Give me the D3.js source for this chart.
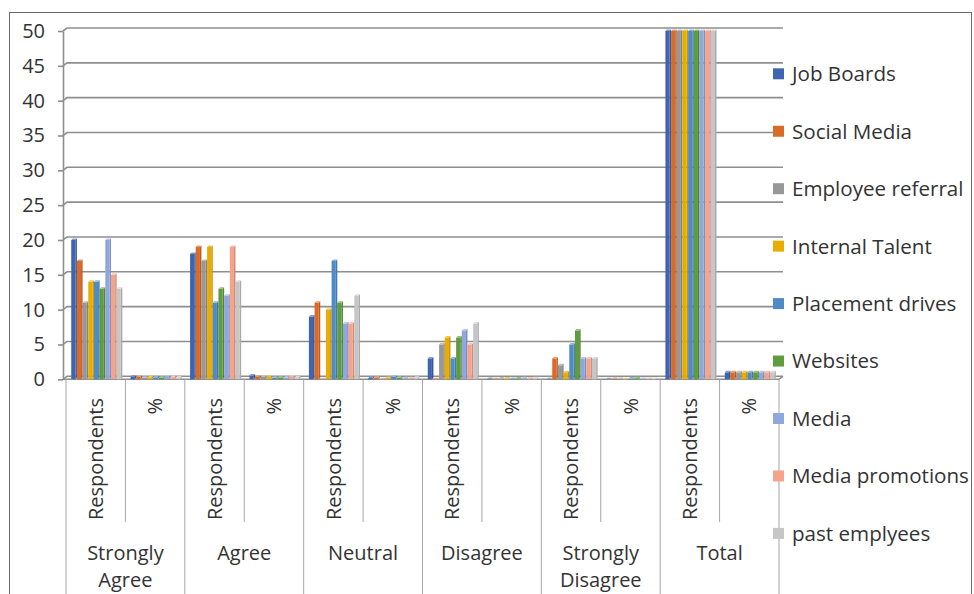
<!DOCTYPE html>
<html>
<head>
<meta charset="utf-8">
<script src="https://cdn.jsdelivr.net/npm/d3@7/dist/d3.min.js"></script>
<style>
  html, body { margin: 0; padding: 0; background: #fff; }
  svg { display: block; }
  text { font-family: "Open Sans", "Noto Sans", sans-serif; fill: #333; }
</style>
</head>
<body>
<svg id="chart" width="974" height="594"></svg>
<script>
// Survey answers per recruitment channel: respondent counts and shares
const groups = ["Strongly Agree", "Agree", "Neutral", "Disagree", "Strongly Disagree", "Total"];
const subLevels = ["Respondents", "%"];
const seriesNames = ["Job Boards", "Social Media", "Employee referral", "Internal Talent",
  "Placement drives", "Websites", "Media", "Media promotions", "past emplyees"];
const seriesColors = ["#3F65B2", "#DA6A28", "#989898", "#E8AD00", "#4F8CC6",
  "#5F9B3F", "#8FA7DE", "#F3A48B", "#C6C6C6"];

// values in category order: SA resp, SA %, A resp, A %, N resp, N %, D resp, D %, SD resp, SD %, Total resp, Total %
const jobBoards        = [20, 0.4,  18, 0.56, 9,  0.18, 3, 0.06, 0, 0,    50, 1];
const socialMedia      = [17, 0.34, 19, 0.38, 11, 0.22, 0, 0,    3, 0.06, 50, 1];
const employeeReferral = [11, 0.22, 17, 0.34, 0,  0,    5, 0.1,  2, 0.04, 50, 1];
const internalTalent   = [14, 0.28, 19, 0.38, 10, 0.2,  6, 0.12, 1, 0.02, 50, 1];
const placementDrives  = [14, 0.28, 11, 0.22, 17, 0.34, 3, 0.06, 5, 0.1,  50, 1];
const websites         = [13, 0.26, 13, 0.26, 11, 0.22, 6, 0.12, 7, 0.14, 50, 1];
const media            = [20, 0.4,  12, 0.24, 8,  0.16, 7, 0.14, 3, 0.06, 50, 1];
const mediaPromotions  = [15, 0.3,  19, 0.38, 8,  0.16, 5, 0.1,  3, 0.06, 50, 1];
const pastEmployees    = [13, 0.26, 14, 0.28, 12, 0.24, 8, 0.16, 3, 0.06, 50, 1];

const yTicks = [0, 5, 10, 15, 20, 25, 30, 35, 40, 45, 50];

const seriesValues = [jobBoards, socialMedia, employeeReferral, internalTalent,
  placementDrives, websites, media, mediaPromotions, pastEmployees];

const svg = d3.select("#chart");

// layout
const plotLeft = 66, plotRight = 779;
const depthX = 4, depthY = 3;          // back-wall offset of the 3D plot
const barDepth = 1.5;                   // depth of each column's top/side face

const categories = [];
groups.forEach(g => subLevels.forEach(s => categories.push(g + "|" + s)));

const x0 = d3.scaleBand().domain(categories).range([plotLeft, plotRight]).paddingInner(0).paddingOuter(0);
const x1 = d3.scaleBand().domain(d3.range(seriesNames.length))
  .range([x0.bandwidth() * 0.088, x0.bandwidth() * 0.948]).padding(0);
const y = d3.scaleLinear().domain([0, 50]).range([379.3, 31]);

// outer frame
svg.append("rect").attr("x", 9.5).attr("y", 12.5).attr("width", 962).attr("height", 600)
  .attr("fill", "none").attr("stroke", "#6b6b6b").attr("stroke-width", 1);

// back-wall gridlines with the slanted joint on the left wall
const grid = svg.append("g").attr("fill", "none").attr("stroke", "#8e8e8e").attr("stroke-width", 1.6);
yTicks.forEach(v => {
  const yy = y(v);
  grid.append("path")
    .attr("d", `M${plotLeft - 3},${yy} L${plotLeft + depthX - 3},${yy - depthY} L${plotRight + depthX},${yy - depthY}`);
});
// floor front edge and right end
grid.append("path")
  .attr("d", `M${plotLeft - 3},${y(0)} L${plotRight},${y(0)} L${plotRight + depthX},${y(0) - depthY}`);

// y axis
const yAxis = d3.axisLeft(y).tickValues(yTicks).tickSize(5).tickSizeOuter(0).tickPadding(13);
const yg = svg.append("g").attr("transform", `translate(${plotLeft - 3},0)`).call(yAxis);
yg.select(".domain").attr("stroke", "#8e8e8e").attr("stroke-width", 1.6);
yg.selectAll(".tick line").attr("stroke", "#8e8e8e").attr("stroke-width", 1.6);
yg.selectAll(".tick text").style("font-size", "20px").attr("fill", "#333")
  .style("font-family", "'Open Sans', 'Noto Sans', sans-serif");

// columns
const shade = (c, k) => d3.interpolateRgb(c, k > 0 ? "#ffffff" : "#000000")(Math.abs(k));
const bars = svg.append("g");
seriesValues.forEach((vals, si) => {
  const color = seriesColors[si];
  vals.forEach((v, ci) => {
    const bx = x0(categories[ci]) + x1(si);
    const bw = x1.bandwidth() - barDepth;
    const top = y(v), base = y(0);
    const g = bars.append("g");
    // side face
    g.append("path")
      .attr("d", `M${bx + bw},${top} L${bx + bw + barDepth},${top - barDepth} L${bx + bw + barDepth},${base - barDepth} L${bx + bw},${base}Z`)
      .attr("fill", shade(color, -0.14));
    // front face
    g.append("rect").attr("x", bx).attr("y", top).attr("width", bw).attr("height", base - top)
      .attr("fill", color);
    // top face
    g.append("path")
      .attr("d", `M${bx},${top} L${bx + barDepth},${top - barDepth} L${bx + bw + barDepth},${top - barDepth} L${bx + bw},${top}Z`)
      .attr("fill", shade(color, 0.35));
  });
});

// category axis: separators
const sep = svg.append("g").attr("stroke", "#a6a6a6").attr("stroke-width", 1);
groups.forEach((g, gi) => {
  const gx = x0(g + "|" + subLevels[0]);
  sep.append("line").attr("x1", gx).attr("x2", gx).attr("y1", y(0)).attr("y2", 600);
  const mx = x0(g + "|" + subLevels[1]);
  sep.append("line").attr("x1", mx).attr("x2", mx).attr("y1", y(0)).attr("y2", 522);
});
sep.append("line").attr("x1", plotRight).attr("x2", plotRight).attr("y1", y(0)).attr("y2", 600);

// inner-level labels (rotated)
const labels = svg.append("g");
categories.forEach(c => {
  const sub = c.split("|")[1];
  const cx = x0(c) + x0.bandwidth() / 2;
  labels.append("text")
    .attr("transform", `translate(${cx},398) rotate(-90)`)
    .attr("text-anchor", "end").attr("dy", "0.36em")
    .style("font-size", "20px")
    .text(sub);
});

// outer-level labels, wrapped to the group width
groups.forEach(g => {
  const gx = x0(g + "|" + subLevels[0]);
  const gw = x0.bandwidth() * 2;
  const t = labels.append("text").attr("text-anchor", "middle").style("font-size", "20px")
    .attr("x", gx + gw / 2).attr("y", 553).attr("dy", "0.36em").text(g);
  if (t.node().getComputedTextLength() > gw - 8) {
    const words = g.split(" ");
    t.text(null);
    words.forEach((w, i) => {
      t.append("tspan").attr("x", gx + gw / 2).attr("y", 553 + i * 27).attr("dy", "0.36em").text(w);
    });
  }
});

// legend
const legend = svg.append("g");
seriesNames.forEach((name, i) => {
  const cy = 73.8 + i * 57.45;
  legend.append("rect").attr("x", 773).attr("y", cy - 5.5).attr("width", 11).attr("height", 11)
    .attr("fill", seriesColors[i]);
  legend.append("text").attr("x", 792).attr("y", cy).attr("dy", "0.36em")
    .style("font-size", "20.6px").text(name);
});
</script>
</body>
</html>
